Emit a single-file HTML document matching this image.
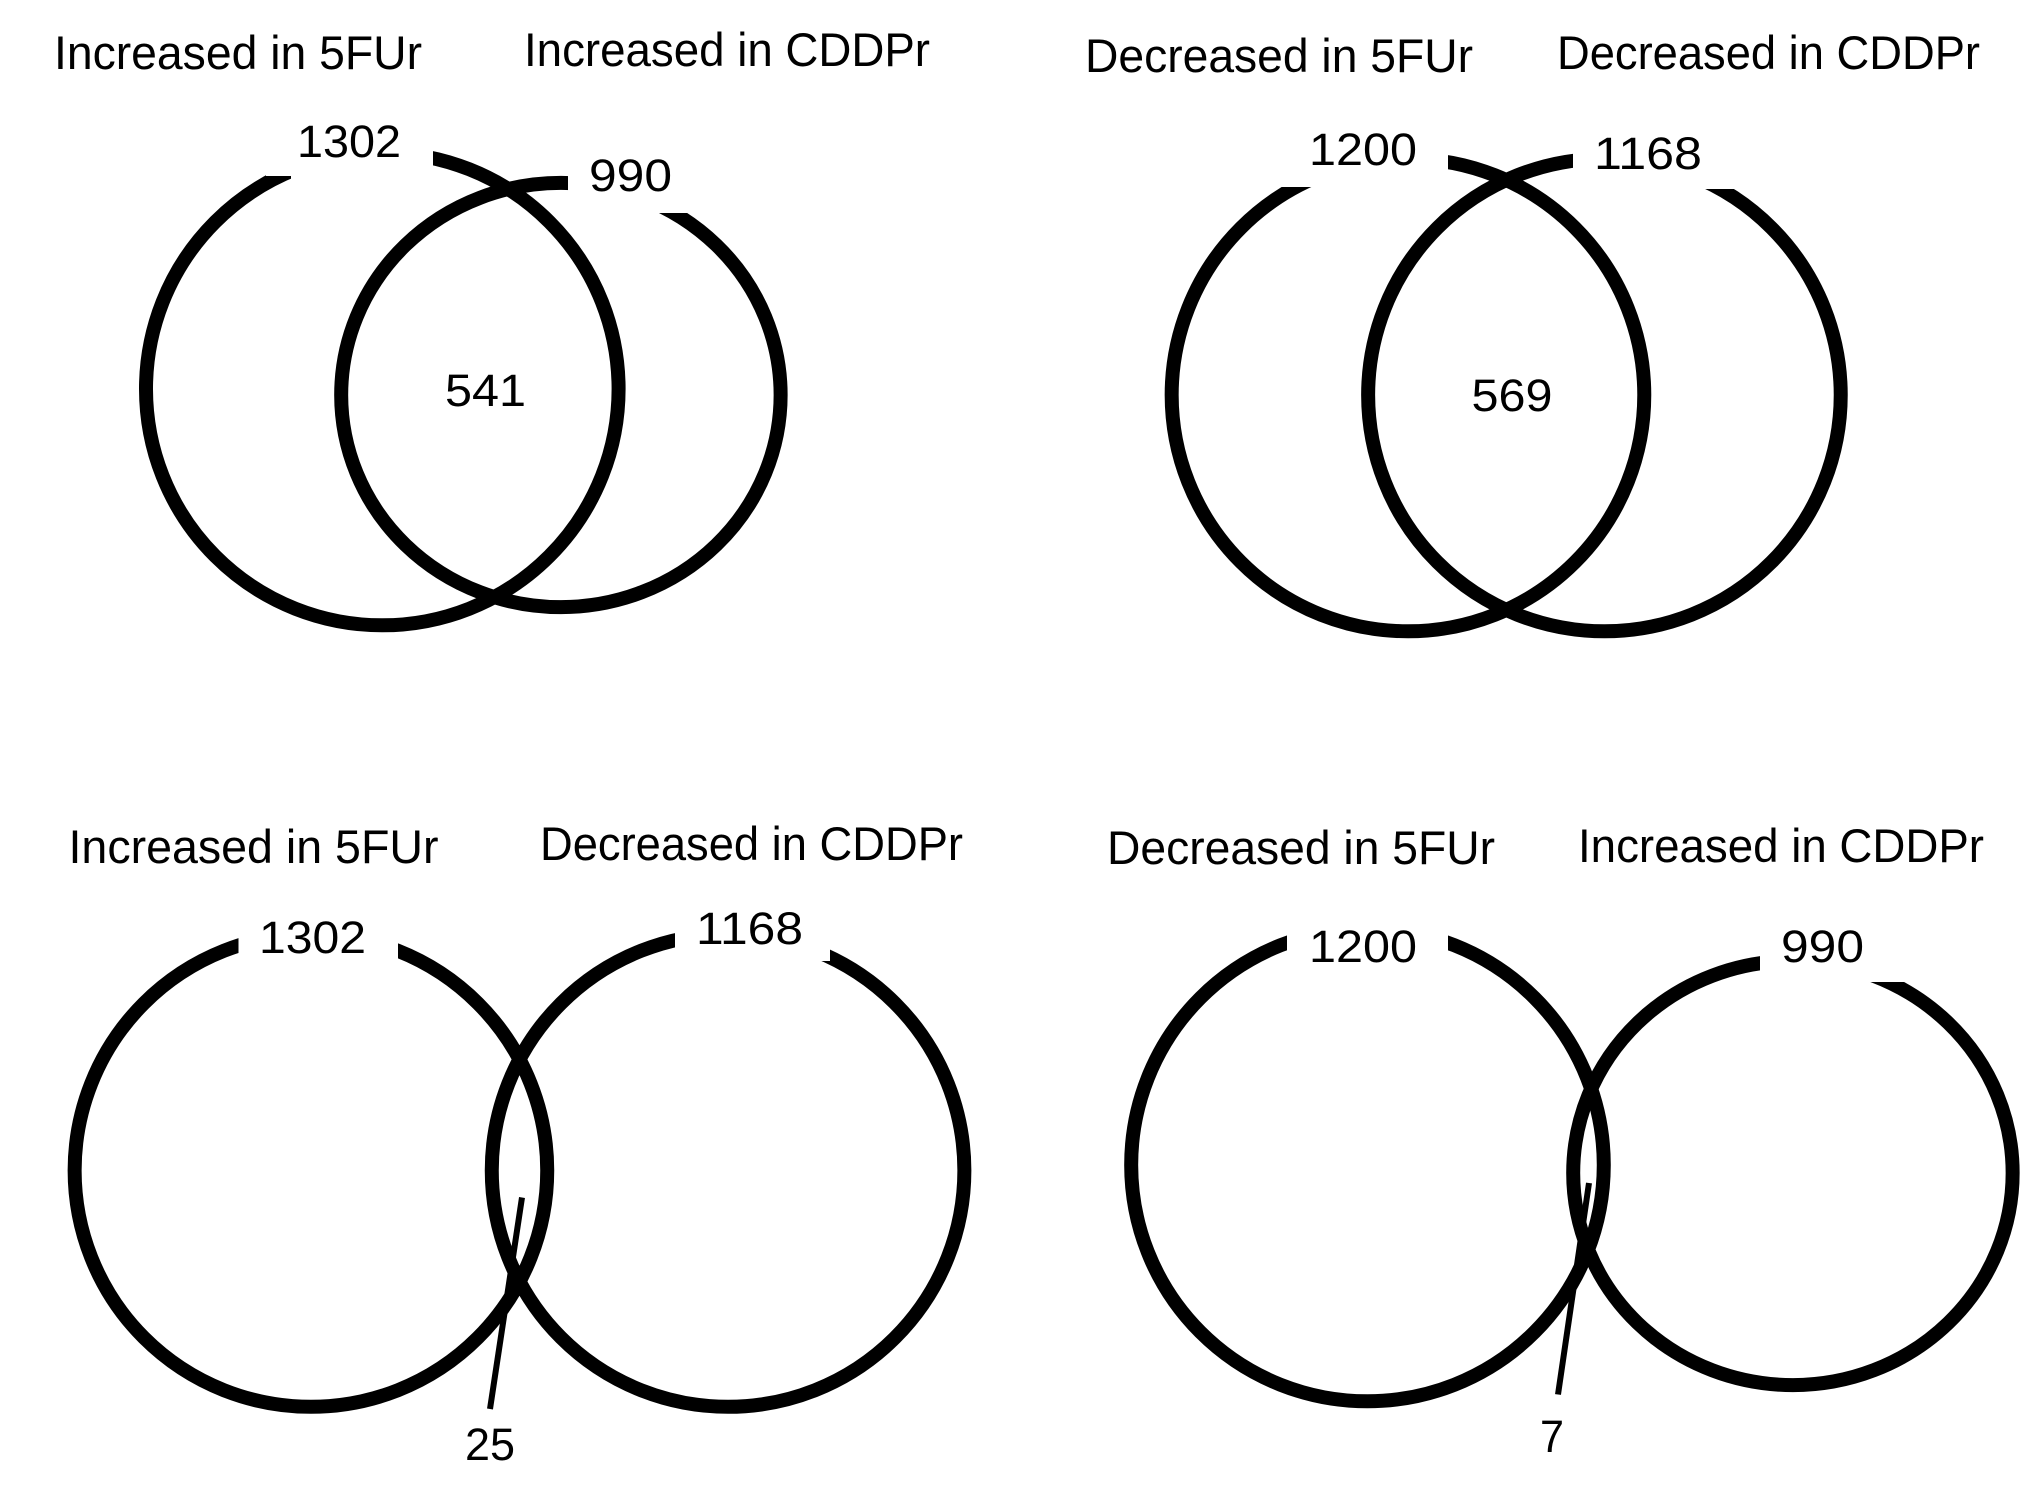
<!DOCTYPE html>
<html lang="en">
<head>
<meta charset="utf-8">
<title>Venn diagrams of 5FUr and CDDPr changes</title>
<style>
html,body{margin:0;padding:0;background:#fff;width:2031px;height:1500px;overflow:hidden}
svg{display:block}
text{font-family:"Liberation Sans",sans-serif;fill:#000}
.title{font-size:47px}
.count{font-size:45px}
</style>
</head>
<body>
<svg id="chart" xmlns="http://www.w3.org/2000/svg" width="2031" height="1500" viewBox="0 0 2031 1500"></svg>
<script>
// Data
const leftSetNames = ["Increased in 5FUr", "Decreased in 5FUr", "Increased in 5FUr", "Decreased in 5FUr"];
const rightSetNames = ["Increased in CDDPr", "Decreased in CDDPr", "Decreased in CDDPr", "Increased in CDDPr"];
const leftCounts = [1302, 1200, 1302, 1200];
const rightCounts = [990, 1168, 1168, 990];
const overlapCounts = [541, 569, 25, 7];

// Layout (page geometry, not data)
const MAX_R = 236.3, SIZE_REF = 1168, LENS_A = 10.4, LENS_B = 0.52;
const layout = [
  {midX:471.6, sepAdj:-0.9, cyA:389, cyB:395,
   t1:[54,69,368], t2:[524,66,406], nA:[297,157,104], nB:[589,191,83], nO:[445,406,81],
   masks:[[291,140,142,60],[266,140,26,36],[568,150,137,63]]},
  {midX:1506.2, sepAdj:5.5, cyA:395, cyB:395,
   t1:[1085,72,388], t2:[1557,69,423], nA:[1309,165,108], nB:[1594,169,108], nO:[1471.5,411,81],
   masks:[[1280,130,168,57],[1573,130,170,59]]},
  {midX:519.5, sepAdj:0, cyA:1170.5, cyB:1170.5,
   t1:[68.5,863,370], t2:[540,860,423], nA:[259,953,107], nB:[696,944,107], nO:[465,1460,50],
   masks:[[238.5,900,159.5,75],[675,900,155,61]], leader:[522,1197.5,490,1409]},
  {midX:1580.2, sepAdj:0.2, cyA:1165, cyB:1173,
   t1:[1107,864,388], t2:[1578,862,406], nA:[1309,962,108], nB:[1781,962,83], nO:[1540,1452,24],
   masks:[[1287,900,161,90],[1760,930,145,52]], leader:[1589,1183,1558,1394.5]}
];

// Scales
function radiusScale(count) { return MAX_R * Math.sqrt(Math.min(1, count / SIZE_REF)); }
function lensWidth(overlap) { return LENS_A * Math.pow(overlap, LENS_B); }

const svg = document.getElementById('chart');
const NS = 'http://www.w3.org/2000/svg';

function ellipseMark(cx, cy, count) {
  const r = radiusScale(count);
  const small = r < MAX_R - 1;
  const el = document.createElementNS(NS, 'ellipse');
  el.setAttribute('cx', cx);
  el.setAttribute('cy', cy);
  el.setAttribute('rx', small ? r * 1.01 : r);
  el.setAttribute('ry', small ? r * 0.975 : r);
  el.setAttribute('fill', 'none');
  el.setAttribute('stroke', '#000');
  el.setAttribute('stroke-width', '14');
  return el;
}
function maskRect(m) {
  const el = document.createElementNS(NS, 'rect');
  el.setAttribute('x', m[0]);
  el.setAttribute('y', m[1]);
  el.setAttribute('width', m[2]);
  el.setAttribute('height', m[3]);
  el.setAttribute('fill', '#fff');
  return el;
}
function label(t, str, cls) {
  const el = document.createElementNS(NS, 'text');
  el.setAttribute('class', cls);
  el.setAttribute('x', t[0]);
  el.setAttribute('y', t[1]);
  el.setAttribute('textLength', t[2]);
  el.setAttribute('lengthAdjust', 'spacingAndGlyphs');
  el.textContent = str;
  return el;
}

layout.forEach(function (p, i) {
  const rA = radiusScale(leftCounts[i]);
  const rB = radiusScale(rightCounts[i]);
  const d = rA + rB - lensWidth(overlapCounts[i]) + p.sepAdj;
  const cxA = p.midX - d / 2;
  const cxB = p.midX + d / 2;

  const circleA = ellipseMark(cxA, p.cyA, leftCounts[i]);
  
  
  svg.appendChild(circleA);

  const circleB = ellipseMark(cxB, p.cyB, rightCounts[i]);
  
  
  svg.appendChild(circleB);

  p.masks.forEach(function (m) {
    const mask = maskRect(m);
    
    
    svg.appendChild(mask);
  });

  if (p.leader) {
    const line = document.createElementNS(NS, 'line');
    line.setAttribute('x1', p.leader[0]);
    line.setAttribute('y1', p.leader[1]);
    line.setAttribute('x2', p.leader[2]);
    line.setAttribute('y2', p.leader[3]);
    line.setAttribute('stroke', '#000');
    line.setAttribute('stroke-width', '6');
    
    
    svg.appendChild(line);
  }

  const titleA = label(p.t1, leftSetNames[i], 'title');
  
  
  svg.appendChild(titleA);

  const titleB = label(p.t2, rightSetNames[i], 'title');
  
  
  svg.appendChild(titleB);

  const countA = label(p.nA, String(leftCounts[i]), 'count');
  
  
  svg.appendChild(countA);

  const countB = label(p.nB, String(rightCounts[i]), 'count');
  
  
  svg.appendChild(countB);

  const countO = label(p.nO, String(overlapCounts[i]), 'count');
  
  
  svg.appendChild(countO);
});
</script>
</body>
</html>
